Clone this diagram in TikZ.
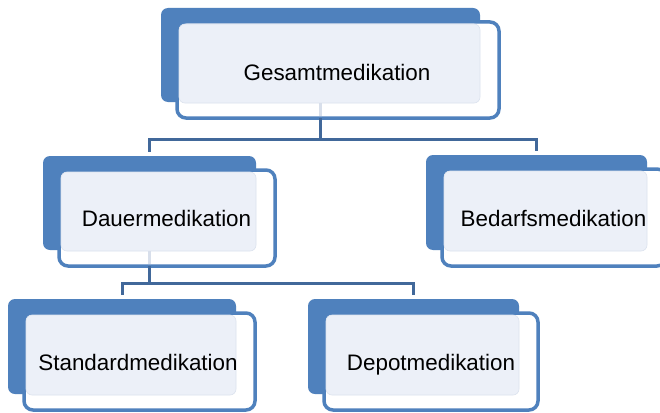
\documentclass[tikz,border=0pt]{standalone}
\usepackage{fontspec}
\setmainfont{Liberation Sans}
\usetikzlibrary{fit}
\definecolor{accblue}{HTML}{4F81BD}
\definecolor{lightfill}{HTML}{ECF0F8}
\definecolor{faceedge}{HTML}{DCE3EE}
\definecolor{connblue}{HTML}{41689A}
\definecolor{stemlight}{HTML}{D8DFEB}
\tikzset{
  backbox/.style={fill=accblue, draw=none, rounded corners=7pt, inner sep=0pt, outer sep=0pt},
  framebox/.style={fill=white, draw=accblue, line width=3.5pt, rounded corners=9pt, inner sep=0pt, outer sep=0pt},
  facebox/.style={fill=lightfill, draw=faceedge, line width=0.6pt, rounded corners=6pt, inner sep=0pt, outer sep=0pt},
  lbl/.style={font=\fontsize{22.4}{27}\selectfont, text=black, inner sep=0pt, anchor=base},
  conn/.style={draw=connblue, line width=3pt},
  stem/.style={draw=stemlight, line width=3pt},
}
\newcommand\medbox[5]{%
  \node[backbox, fit={(#2,#3) (#4,#5)}] (#1B) {};
  \node[framebox, fit={(#2+16,#3+14) (#4+19,#5+16)}] (#1F) {};
  \node[facebox, fit={(#2+18,#3+16) (#4,#5+1)}] (#1L) {};
}
\begin{document}
\begin{tikzpicture}[x=1pt, y=-1pt]
\clip (0,0) rectangle (660,412);
\fill[white] (0,0) rectangle (660,412);
% boxes
\medbox{g}{161}{8}{480}{102}
\medbox{d}{43}{156}{256}{250}
\medbox{b}{426}{155}{647}{250}
\medbox{s}{8}{299}{236}{394}
\medbox{p}{308}{299}{519}{394}
% light stems inside frames
\draw[stem, shorten >=1.75pt] (gL.south -| gB.south) -- (gF.south -| gB.south);
\draw[stem, shorten >=1.75pt] (dL.south -| dB.south) -- (dF.south -| dB.south);
% labels
\node[lbl] (gT) at (337,80) {Gesamtmedikation};
\node[lbl] (dT) at (166.5,226) {Dauermedikation};
\node[lbl] (bT) at (553.5,226) {Bedarfsmedikation};
\node[lbl] (sT) at (138,370) {Standardmedikation};
\node[lbl] (pT) at (431,370) {Depotmedikation};
% connectors
\draw[conn] (gF.south -| gB.south) -- ++(0,21) coordinate (gJ);
\draw[conn, shorten >=4.5pt] (gJ) -| (dB.north);
\draw[conn, shorten >=4pt] (gJ) -| (bB.north);
\draw[conn] (dF.south -| dB.south) -- ++(0,17) coordinate (dJ);
\draw[conn, shorten >=4pt] (dJ) -| (sB.north);
\draw[conn, shorten >=4pt] (dJ) -| (pB.north);
\end{tikzpicture}
\end{document}
